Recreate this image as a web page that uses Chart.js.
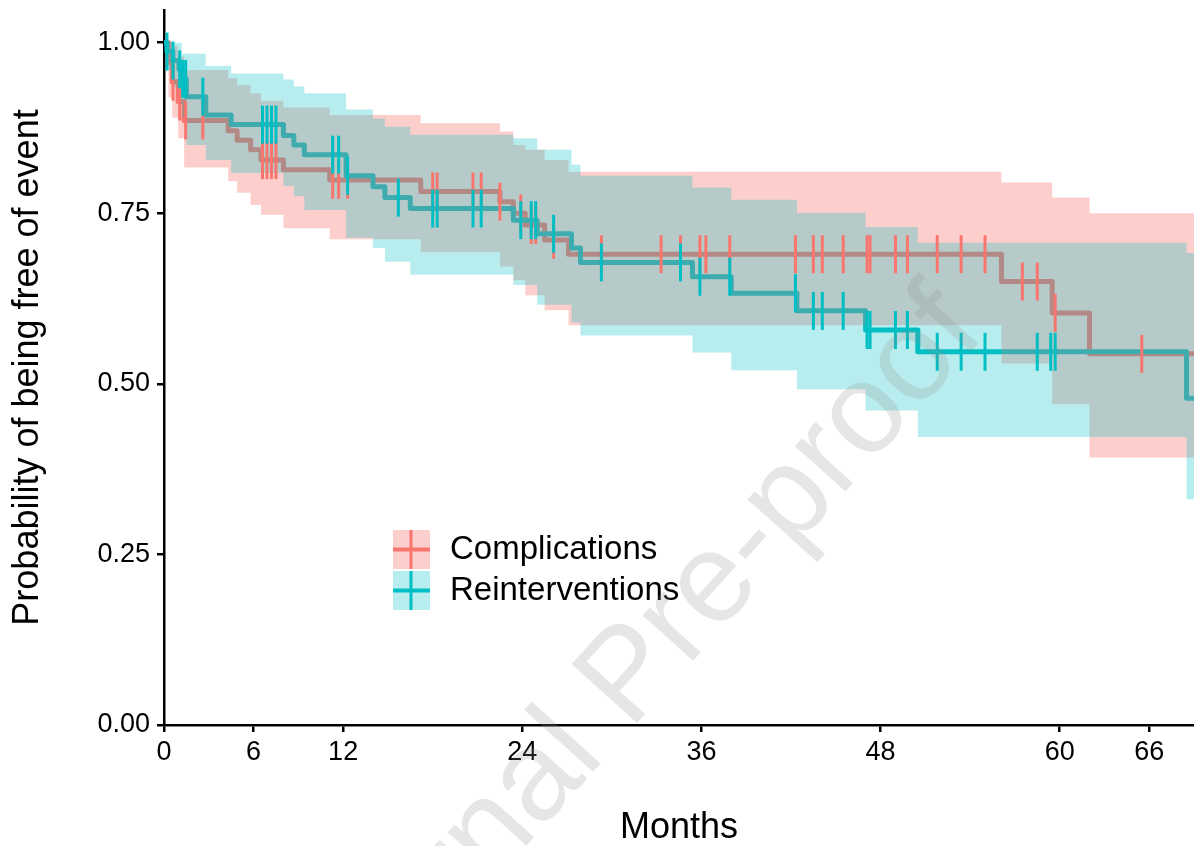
<!DOCTYPE html>
<html>
<head>
<meta charset="utf-8">
<script src="https://cdn.jsdelivr.net/npm/chart.js@4.4.1/dist/chart.umd.min.js"></script>
<style>
  html, body { margin: 0; padding: 0; background: #fff; }
</style>
</head>
<body>
<canvas id="kmChart" width="1194" height="846"></canvas>
<script>
// Series names
const seriesNames = ['Complications', 'Reinterventions'];

// Complications: step times (months), survival, 95% CI
const compTimes = [0, 0.3, 0.55, 0.95, 1.35, 4.3, 4.9, 5.8, 6.5, 8.0, 11.1, 17.2, 22.5, 23.4, 24.2, 25.5, 27.1, 56.1, 59.5, 62.0];
const compSurv  = [1, 0.971, 0.943, 0.914, 0.886, 0.871, 0.857, 0.843, 0.828, 0.814, 0.799, 0.782, 0.767, 0.750, 0.733, 0.711, 0.690, 0.650, 0.604, 0.544];
const compUpper = [1, 1, 0.995, 0.98, 0.96, 0.948, 0.938, 0.926, 0.915, 0.905, 0.894, 0.882, 0.870, 0.850, 0.843, 0.828, 0.811, 0.795, 0.773, 0.750];
const compLower = [1, 0.92, 0.89, 0.86, 0.817, 0.797, 0.78, 0.762, 0.748, 0.728, 0.712, 0.693, 0.672, 0.652, 0.63, 0.608, 0.586, 0.53, 0.47, 0.392];
const compCensor = [0.6, 1.05, 1.45, 2.6, 6.6, 6.9, 7.2, 7.5, 11.3, 11.7, 12.3, 18.0, 18.3, 20.7, 21.25, 22.5, 23.9, 24.6, 24.9, 26.1,
  29.3, 33.3, 34.6, 35.9, 36.3, 37.9, 42.3, 43.5, 44.1, 45.5, 47.1, 47.3, 49.0, 49.8, 51.8, 53.4, 55.0, 57.5, 58.5, 59.7, 65.5];

// Reinterventions
const reintTimes = [0, 0.2, 0.6, 1.0, 1.2, 1.5, 2.8, 4.5, 8.0, 8.7, 9.4, 12.2, 14.0, 14.8, 16.5, 23.4, 25.0, 27.3, 27.9, 35.4, 38.0, 42.4, 47.0, 50.5, 68.5];
const reintSurv  = [1, 0.987, 0.974, 0.961, 0.947, 0.921, 0.894, 0.880, 0.864, 0.850, 0.836, 0.805, 0.789, 0.773, 0.757, 0.740, 0.720, 0.699, 0.678, 0.657, 0.633, 0.607, 0.579, 0.547, 0.479];
const reintUpper = [1, 1, 1, 1, 0.984, 0.984, 0.966, 0.955, 0.946, 0.936, 0.926, 0.902, 0.889, 0.877, 0.865, 0.86, 0.843, 0.821, 0.805, 0.788, 0.77, 0.751, 0.73, 0.707, 0.692];
const reintLower = [1, 0.96, 0.935, 0.91, 0.89, 0.85, 0.828, 0.809, 0.79, 0.775, 0.755, 0.714, 0.699, 0.679, 0.66, 0.645, 0.616, 0.59, 0.571, 0.546, 0.52, 0.492, 0.461, 0.422, 0.331];
const reintCensor = [0.2, 0.6, 1.05, 1.25, 1.45, 2.6, 6.6, 6.9, 7.2, 7.5, 11.3, 11.7, 12.3, 15.7, 18.0, 18.3, 20.7, 21.25, 23.9, 24.6, 24.9, 26.1,
  29.3, 34.6, 35.9, 37.9, 42.3, 43.5, 44.1, 45.5, 47.1, 47.3, 49.0, 49.8, 51.8, 53.4, 55.0, 58.5, 59.4, 59.7];

// Axis ticks
const xTicks = [0, 6, 12, 24, 36, 48, 60, 66];
const yTicks = [0, 0.25, 0.5, 0.75, 1.0];
const xMax = 69;
const yMax = 1.048;

const red = '#F8766D';
const teal = '#00BFC4';
const redFill = 'rgba(248,118,109,0.35)';
const tealFill = 'rgba(0,191,196,0.28)';

Chart.defaults.font.family = '"Liberation Sans", Arial, sans-serif';
Chart.defaults.color = '#000';

// KM curve as points, held flat to the right edge
function stepPoints(times, values) {
  const pts = times.map((t, i) => ({ x: t, y: values[i] }));
  pts.push({ x: xMax, y: values[values.length - 1] });
  return pts;
}

// survival value at time t (for placing the censor ticks on the curve)
function survAt(times, surv, t) {
  let v = surv[0];
  for (let i = 0; i < times.length; i++) {
    if (times[i] <= t) v = surv[i];
  }
  return v;
}

function censorPoints(times, surv, censor) {
  return censor.map(t => ({ x: t, y: survAt(times, surv, t) }));
}

function curve(label, times, values, color, order) {
  return {
    label: label,
    data: stepPoints(times, values),
    borderColor: color,
    borderWidth: 5,
    borderJoinStyle: 'round',
    stepped: 'before',
    pointRadius: 0,
    fill: false,
    order: order
  };
}

function band(label, times, values, fill, bg, order) {
  return {
    label: label,
    data: stepPoints(times, values),
    borderColor: 'rgba(0,0,0,0)',
    borderWidth: 0,
    stepped: 'before',
    pointRadius: 0,
    fill: fill,
    backgroundColor: bg,
    order: order
  };
}

function censors(label, times, surv, censor, color, order) {
  return {
    label: label,
    data: censorPoints(times, surv, censor),
    showLine: false,
    pointStyle: 'line',
    pointRotation: 90,
    pointRadius: 19,
    pointBorderColor: color,
    pointBorderWidth: 3,
    fill: false,
    order: order
  };
}

// legend inside the plot + watermark
const extrasPlugin = {
  id: 'extras',
  afterDatasetsDraw(chart) {
    const ctx = chart.ctx;
    const keys = [
      { name: seriesNames[0], fill: redFill, color: red, top: 530 },
      { name: seriesNames[1], fill: tealFill, color: teal, top: 571 }
    ];
    ctx.save();
    keys.forEach(k => {
      ctx.fillStyle = k.fill;
      ctx.fillRect(393, k.top, 37, 39);
      ctx.strokeStyle = k.color;
      ctx.lineWidth = 4;
      ctx.beginPath();
      ctx.moveTo(393, k.top + 19.5);
      ctx.lineTo(430, k.top + 19.5);
      ctx.stroke();
      ctx.lineWidth = 3;
      ctx.beginPath();
      ctx.moveTo(411, k.top);
      ctx.lineTo(411, k.top + 39);
      ctx.stroke();
      ctx.fillStyle = '#000';
      ctx.font = '33px "Liberation Sans", Arial, sans-serif';
      ctx.textAlign = 'left';
      ctx.textBaseline = 'middle';
      ctx.fillText(k.name, 450, k.top + 20);
    });
    ctx.restore();
  },
  afterDraw(chart) {
    const ctx = chart.ctx;
    ctx.save();
    ctx.translate(630, 678);
    ctx.rotate(-48 * Math.PI / 180);
    ctx.font = '128px "Liberation Sans", Arial, sans-serif';
    ctx.fillStyle = 'rgba(140,140,140,0.22)';
    ctx.textAlign = 'center';
    ctx.textBaseline = 'middle';
    ctx.fillText('Journal Pre-proof', 0, 0);
    ctx.restore();
  }
};

const ctx = document.getElementById('kmChart').getContext('2d');
const chart = new Chart(ctx, {
  type: 'line',
  data: {
    datasets: [
      curve(seriesNames[0], compTimes, compSurv, red, 6),
      curve(seriesNames[1], reintTimes, reintSurv, teal, 5),
      band('comp upper', compTimes, compUpper, '+1', redFill, 4),
      band('comp lower', compTimes, compLower, false, redFill, 4),
      band('reint upper', reintTimes, reintUpper, '+1', tealFill, 3),
      band('reint lower', reintTimes, reintLower, false, tealFill, 3),
      censors('comp censor', compTimes, compSurv, compCensor, red, 2),
      censors('reint censor', reintTimes, reintSurv, reintCensor, teal, 1)
    ]
  },
  options: {
    responsive: false,
    animation: false,
    layout: { autoPadding: false, padding: { top: 10, right: 0, bottom: 0, left: 0 } },
    scales: {
      x: {
        type: 'linear',
        min: 0,
        max: xMax,
        afterBuildTicks: scale => { scale.ticks = xTicks.map(v => ({ value: v })); },
        afterFit: scale => { scale.height = 121; scale.paddingLeft = 0; scale.paddingRight = 0; },
        ticks: { font: { size: 27 }, color: '#000', padding: 4, maxRotation: 0, autoSkip: false,
          callback: v => String(v) },
        grid: { display: true, drawOnChartArea: false, drawTicks: true, tickLength: 7, color: '#000', lineWidth: 2.5 },
        border: { display: true, color: '#000', width: 2.5 },
        title: { display: true, text: 'Months', font: { size: 36, lineHeight: 1 }, color: '#000', padding: { top: 0, bottom: 0 } }
      },
      y: {
        type: 'linear',
        min: 0,
        max: yMax,
        afterBuildTicks: scale => { scale.ticks = yTicks.map(v => ({ value: v })); },
        afterFit: scale => { scale.width = 164; scale.paddingTop = 0; scale.paddingBottom = 0; },
        ticks: { font: { size: 27 }, color: '#000', padding: 7, autoSkip: false,
          callback: v => v.toFixed(2) },
        grid: { display: true, drawOnChartArea: false, drawTicks: true, tickLength: 7, color: '#000', lineWidth: 2.5 },
        border: { display: true, color: '#000', width: 2.5 },
        title: { display: true, text: 'Probability of being free of event', font: { size: 36, lineHeight: 1 }, color: '#000', padding: { top: 10, bottom: 0 } }
      }
    },
    plugins: {
      legend: { display: false },
      tooltip: { enabled: false }
    }
  },
  plugins: [extrasPlugin]
});
</script>
</body>
</html>
